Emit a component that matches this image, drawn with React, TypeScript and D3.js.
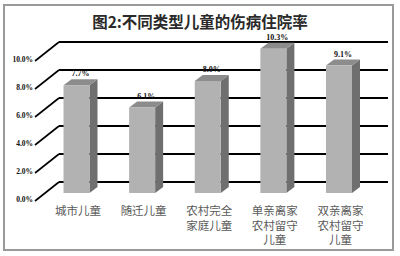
import React from "react";
import * as d3 from "d3";

// Hospitalisation rate for injury/illness, by type of child (%)
const categories: string[][] = [
  ["城市儿童"],
  ["随迁儿童"],
  ["农村完全", "家庭儿童"],
  ["单亲离家", "农村留守", "儿童"],
  ["双亲离家", "农村留守", "儿童"],
];
const rates: number[] = [7.7, 6.1, 8.0, 10.3, 9.1];
const rateLabels: string[] = ["7.7%", "6.1%", "8.0%", "10.3%", "9.1%"];
const yTicks: number[] = [0, 2, 4, 6, 8, 10];
const yTickLabels: string[] = ["0.0%", "2.0%", "4.0%", "6.0%", "8.0%", "10.0%"];
const title = "图2:不同类型儿童的伤病住院率";

const W = 400;
const H = 256;

export default function App() {
  // vertical extent of values (shared by wall gridlines and bars)
  const h = d3.scaleLinear().domain([0, 10]).range([0, 140]);
  const wallBase = 182; // 0 line on the back wall
  const floorFront = 193; // front edge of the bars' base
  const depthX = 8;
  const depthY = -6;
  const barW = 26;
  const wallLeft = 59;
  const wallRight = 388;

  const x = d3
    .scalePoint<number>()
    .domain(d3.range(rates.length))
    .range([43.7, 371.8])
    .padding(0.5);

  const poly = (pts: [number, number][]) => pts.map((p) => p.join(",")).join(" ");

  return (
    <svg
      width={W}
      height={H}
      style={{ position: "absolute", left: 0, top: 0, background: "#fff" }}
      fontFamily="'Noto Sans CJK SC', 'Noto Sans', sans-serif"
    >
      <rect x={0} y={0} width={W} height={H} fill="#fff" />
      <rect x={4} y={5} width={389} height={245} fill="#fff" stroke="#9a9a9a" strokeWidth={2} />

      <text
        x={200}
        y={28}
        textAnchor="middle"
        fontSize={15.5}
        fontWeight="bold"
        fill="#2a2a2a"
      >
        {title}
      </text>

      {/* back-wall gridlines with slanted leaders to the tick labels */}
      {yTicks.map((t, i) => {
        const yb = wallBase - h(t);
        return (
          <g key={t}>
            <line x1={wallLeft} y1={yb} x2={wallRight} y2={yb} stroke="#000" strokeWidth={1.8} />
            <line x1={35} y1={yb + 19} x2={wallLeft} y2={yb} stroke="#000" strokeWidth={1.6} />
            <text
              x={33}
              y={yb + 20}
              textAnchor="end"
              fontFamily="'Liberation Serif', serif"
              fontWeight="bold"
              fontSize={7.5}
              fill="#111"
            >
              {yTickLabels[i]}
            </text>
          </g>
        );
      })}

      {/* 3D bars */}
      {rates.map((v, i) => {
        const cx = x(i) as number;
        const x0 = cx - barW / 2;
        const x1 = cx + barW / 2;
        const yt = floorFront - h(v);
        return (
          <g key={i}>
            <polygon
              points={poly([
                [x1, yt],
                [x1 + depthX, yt + depthY],
                [x1 + depthX, floorFront + depthY],
                [x1, floorFront],
              ])}
              fill="#6f6f6f"
            />
            <polygon
              points={poly([
                [x0, yt],
                [x1, yt],
                [x1 + depthX, yt + depthY],
                [x0 + depthX, yt + depthY],
              ])}
              fill="#8c8c8c"
            />
            <rect x={x0} y={yt} width={barW} height={floorFront - yt} fill="#b2b2b2" />
            <text
              x={cx + depthX / 2}
              y={yt + depthY - 3}
              textAnchor="middle"
              fontFamily="'Liberation Serif', serif"
              fontWeight="bold"
              fontSize={8}
              fill="#111"
            >
              {rateLabels[i]}
            </text>
          </g>
        );
      })}

      {/* category labels */}
      {categories.map((lines, i) => {
        const cx = (x(i) as number) + 1.5;
        return (
          <text key={i} textAnchor="middle" fontSize={11.5} fill="#5a5a5a">
            {lines.map((s, j) => (
              <tspan key={j} x={cx} y={215 + j * 14.5}>
                {s}
              </tspan>
            ))}
          </text>
        );
      })}
    </svg>
  );
}
